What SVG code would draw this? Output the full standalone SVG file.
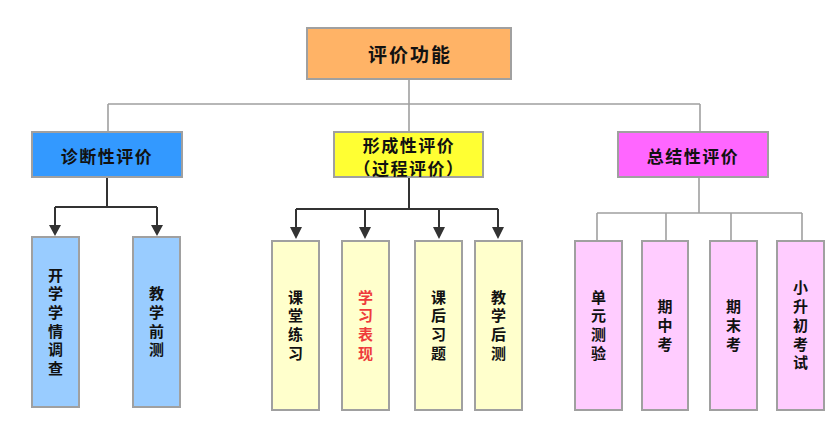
<svg xmlns="http://www.w3.org/2000/svg" width="834" height="424" viewBox="0 0 834 424">
<style>
.box{stroke:#a0a0a0;stroke-width:2}
.t{font-family:"Noto Sans CJK SC","Noto Sans CJK JP",sans-serif;font-weight:bold;fill:#111;text-anchor:middle;dominant-baseline:central}
.h{font-size:19px;letter-spacing:2px}
.h2{font-size:17px;letter-spacing:1.5px}
.v{font-family:"Noto Sans CJK SC","Noto Sans CJK JP",sans-serif;font-weight:bold;fill:#111;font-size:15px;letter-spacing:3.7px;writing-mode:vertical-rl;text-anchor:middle}
.g{fill:none;stroke:#a0a0a0;stroke-width:1.6}
.d{fill:none;stroke:#333;stroke-width:2}
</style>
<g id="connectors">
<path class="g" d="M409,79 V104 M108,104 H700 M108,104 V132 M409,104 V132 M700,104 V132"/>
<path class="d" d="M107,177 V207 M55,207 H157 M55,207 V225 M157,207 V225"/>
<path d="M49,225 H61 L55,236 Z M151,225 H163 L157,236 Z" fill="#333"/>
<path class="d" d="M409,177 V209 M296,209 H498 M296,209 V228 M365,209 V228 M439,209 V228 M498,209 V228"/>
<path d="M290,227 H302 L296,239 Z M359,227 H371 L365,239 Z M433,227 H445 L439,239 Z M492,227 H504 L498,239 Z" fill="#333"/>
<path class="g" d="M699,177 V213 M597,213 H802 M597,213 V241 M666,213 V241 M731,213 V241 M802,213 V241"/>
</g>
<g id="n-root"><rect class="box" x="307" y="28" width="204" height="51" fill="#ffb366"/><text class="t h" x="410" y="53.5">评价功能</text></g>
<g id="n-diag"><rect class="box" x="32" y="132" width="150" height="45" fill="#3399ff"/><text class="t h2" x="107" y="155">诊断性评价</text></g>
<g id="n-form"><rect class="box" x="334" y="132" width="149" height="45" fill="#ffff33"/><text class="t h2" x="409" y="144">形成性评价</text><text class="t h2" x="409" y="167">（过程评价）</text></g>
<g id="n-sum"><rect class="box" x="618" y="132" width="150" height="45" fill="#ff66ff"/><text class="t h2" x="693" y="155">总结性评价</text></g>

<g id="n-d1"><rect class="box" x="32" y="237" width="47" height="170" fill="#99ccff"/><text class="v" x="55.5" y="323.5">开学学情调查</text></g>
<g id="n-d2"><rect class="box" x="133" y="237" width="47" height="170" fill="#99ccff"/><text class="v" x="156.5" y="323.5">教学前测</text></g>

<g id="n-f1"><rect class="box" x="272" y="241" width="47" height="169" fill="#ffffcc"/><text class="v" x="295.5" y="327">课堂练习</text></g>
<g id="n-f2"><rect class="box" x="342" y="241" width="47" height="169" fill="#ffffcc"/><text class="v" x="365.5" y="327" style="fill:#ee3b3b">学习表现</text></g>
<g id="n-f3"><rect class="box" x="415" y="241" width="47" height="169" fill="#ffffcc"/><text class="v" x="438.5" y="327">课后习题</text></g>
<g id="n-f4"><rect class="box" x="475" y="241" width="47" height="169" fill="#ffffcc"/><text class="v" x="498.5" y="327">教学后测</text></g>

<g id="n-s1"><rect class="box" x="575" y="241" width="47" height="169" fill="#ffccff"/><text class="v" x="598.5" y="327">单元测验</text></g>
<g id="n-s2"><rect class="box" x="642" y="241" width="46" height="169" fill="#ffccff"/><text class="v" x="665" y="327">期中考</text></g>
<g id="n-s3"><rect class="box" x="710" y="241" width="47" height="169" fill="#ffccff"/><text class="v" x="733.5" y="327">期末考</text></g>
<g id="n-s4"><rect class="box" x="777" y="241" width="47" height="169" fill="#ffccff"/><text class="v" x="800.5" y="327">小升初考试</text></g>
</svg>
